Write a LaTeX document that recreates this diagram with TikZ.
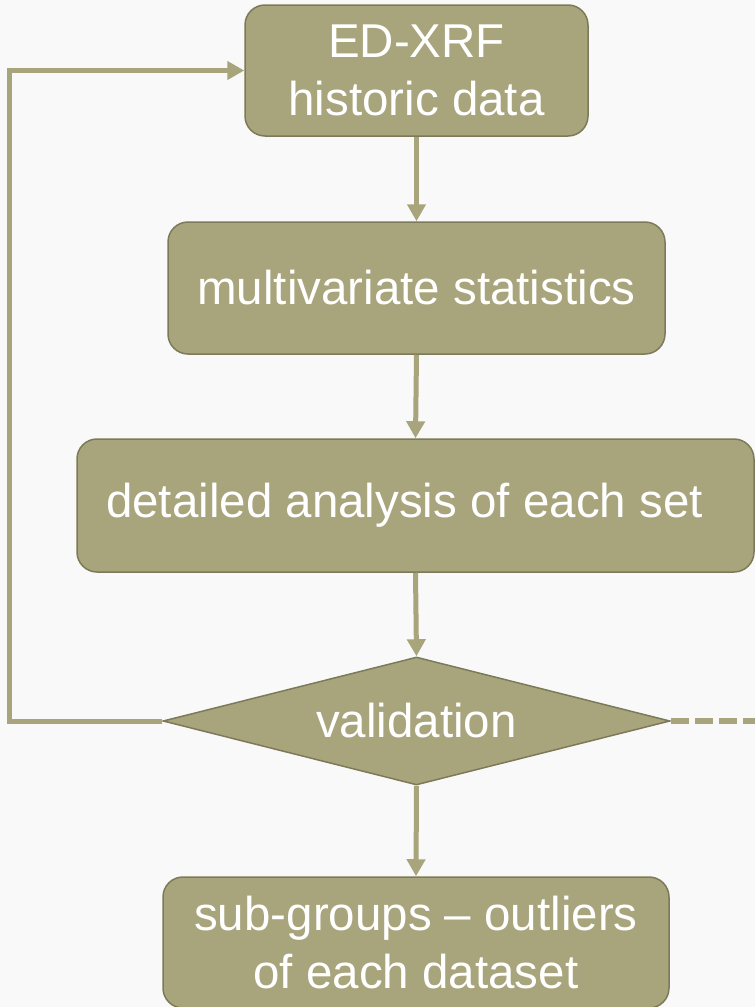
\documentclass[tikz,border=0pt]{standalone}
\usepackage{fontspec}
\setmainfont{Liberation Sans}
\usetikzlibrary{shapes.geometric,arrows.meta}
\definecolor{fillcol}{RGB}{168,164,124}
\definecolor{bordercol}{RGB}{125,122,89}
\definecolor{bgcol}{RGB}{249,249,249}
\tikzset{
  box/.style={draw=bordercol, line width=1.5pt, fill=fillcol, rounded corners=20pt,
    text=white, align=center, inner sep=0pt, font=\fontsize{47.5}{57.5}\selectfont},
  decision/.style={draw=bordercol, line width=1.5pt, fill=fillcol, shape=diamond,
    shape aspect=4, text=white, inner sep=0pt, font=\fontsize{47.5}{57.5}\selectfont},
  conn/.style={draw=fillcol, line width=5pt, -{Triangle[width=18pt,length=17pt]}},
  dconn/.style={draw=fillcol, line width=6pt, dash pattern=on 18pt off 6pt},
}
\begin{document}
\begin{tikzpicture}[x=1pt,y=-1pt]
\fill[bgcol] (0,0) rectangle (755,1007);
\useasboundingbox (0,0) rectangle (755,1007);
\node[box, minimum width=343pt, minimum height=131pt] (b1) at (416.5,70.5) {ED-XRF\\historic data};
\node[box, minimum width=497pt, minimum height=132pt] (b2) at (416.5,288) {multivariate statistics};
\node[box, minimum width=677pt, minimum height=133pt] (b3) at (415.5,505.5) {detailed analysis of each set\hspace*{22pt}};
\node[decision, minimum width=507pt, minimum height=128pt] (d) at (416.5,721) {validation};
\node[box, minimum width=506pt, minimum height=131pt] (b5) at (416,942.5) {sub-groups -- outliers\\of each dataset};
\coordinate (lc) at (9.5,721);
\coordinate (rc) at (760,721);
\draw[conn] (b1.south) -- (b2.north);
\draw[conn] (b2.south) -- (b3.north);
\draw[conn] (b3.south) -- (d.north);
\draw[conn] (d.south) -- (b5.north);
\draw[conn, line cap=butt] (d.west) -- (lc) |- (b1.west);
\draw[dconn] (d.east) -- (rc);
\end{tikzpicture}
\end{document}
